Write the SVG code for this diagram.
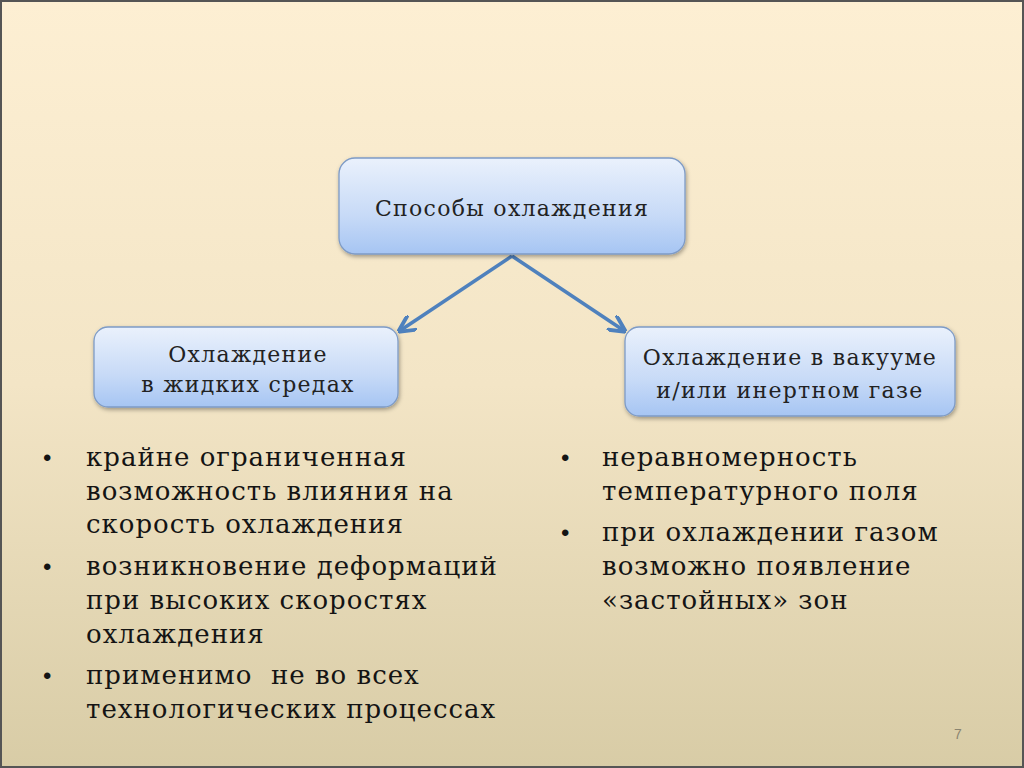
<svg xmlns="http://www.w3.org/2000/svg" width="1024" height="768" viewBox="0 0 1024 768">
<defs>
<linearGradient id="bg" x1="0" y1="0" x2="0" y2="1">
<stop offset="0" stop-color="#FDEFD3"/>
<stop offset="0.5" stop-color="#F3E5C6"/>
<stop offset="1" stop-color="#D8CCA6"/>
</linearGradient>
<linearGradient id="box" x1="0" y1="0" x2="0" y2="1">
<stop offset="0" stop-color="#EAF1FC"/>
<stop offset="0.6" stop-color="#C7DAF7"/>
<stop offset="1" stop-color="#A6C5F3"/>
</linearGradient>
<filter id="sh" x="-10%" y="-10%" width="120%" height="130%">
<feDropShadow dx="1" dy="2" stdDeviation="2" flood-color="#000" flood-opacity="0.35"/>
</filter>
<marker id="ah" viewBox="0 0 10 10" refX="8" refY="5" markerWidth="5" markerHeight="5" orient="auto">
<path d="M0,0 L10,5 L0,10" fill="none" stroke="#4F81BD" stroke-width="2.2"/>
</marker>
<style>
.node rect{fill:url(#box);stroke:#7E9BC6;stroke-width:1.3;filter:url(#sh)}
.nt{font-family:"DejaVu Serif","Liberation Serif",serif;font-size:22px;letter-spacing:1.3px;fill:#222;text-anchor:middle}
.bt{font-family:"DejaVu Serif","Liberation Serif",serif;font-size:26px;letter-spacing:1px;fill:#141414}
.bu{font-family:"Liberation Sans",Arial,sans-serif;font-size:24px;fill:#141414}
.conn line{stroke:#4F81BD;stroke-width:3.5;marker-end:url(#ah)}
</style>
</defs>
<rect x="0" y="0" width="1024" height="768" fill="url(#bg)"/>
<rect x="1" y="1" width="1022" height="766" fill="none" stroke="#555" stroke-width="2"/>
<g class="conn">
<line x1="512" y1="256" x2="401" y2="330"/>
<line x1="512" y1="256" x2="623" y2="330"/>
</g>
<g id="n-top" class="node">
<rect x="339" y="158" width="346" height="96" rx="16"/>
<text class="nt" x="512" y="216">Способы охлаждения</text>
</g>
<g id="n-left" class="node">
<rect x="94" y="327" width="304" height="80" rx="14"/>
<text class="nt" x="248" y="362">Охлаждение</text>
<text class="nt" x="248" y="392">в жидких средах</text>
</g>
<g id="n-right" class="node">
<rect x="625" y="327" width="330" height="89" rx="14"/>
<text class="nt" x="790" y="365">Охлаждение в вакууме</text>
<text class="nt" x="790" y="398">и/или инертном газе</text>
</g>
<g id="bullets-left">
<text class="bu" x="43" y="466">•</text>
<text class="bt" x="86" y="466">крайне ограниченная</text>
<text class="bt" x="86" y="500">возможность влияния на</text>
<text class="bt" x="86" y="533">скорость охлаждения</text>
<text class="bu" x="43" y="575">•</text>
<text class="bt" x="86" y="575">возникновение деформаций</text>
<text class="bt" x="86" y="609">при высоких скоростях</text>
<text class="bt" x="86" y="643">охлаждения</text>
<text class="bu" x="43" y="684">•</text>
<text class="bt" x="86" y="684" xml:space="preserve">применимо  не во всех</text>
<text class="bt" x="86" y="718">технологических процессах</text>
</g>
<g id="bullets-right">
<text class="bu" x="561" y="466">•</text>
<text class="bt" x="602" y="466">неравномерность</text>
<text class="bt" x="602" y="500">температурного поля</text>
<text class="bu" x="561" y="541">•</text>
<text class="bt" x="602" y="541">при охлаждении газом</text>
<text class="bt" x="602" y="575">возможно появление</text>
<text class="bt" x="602" y="609">«застойных» зон</text>
</g>
<text x="958" y="739" font-family="Liberation Sans, Arial, sans-serif" font-size="14" fill="#8A8570" text-anchor="middle">7</text>
</svg>
